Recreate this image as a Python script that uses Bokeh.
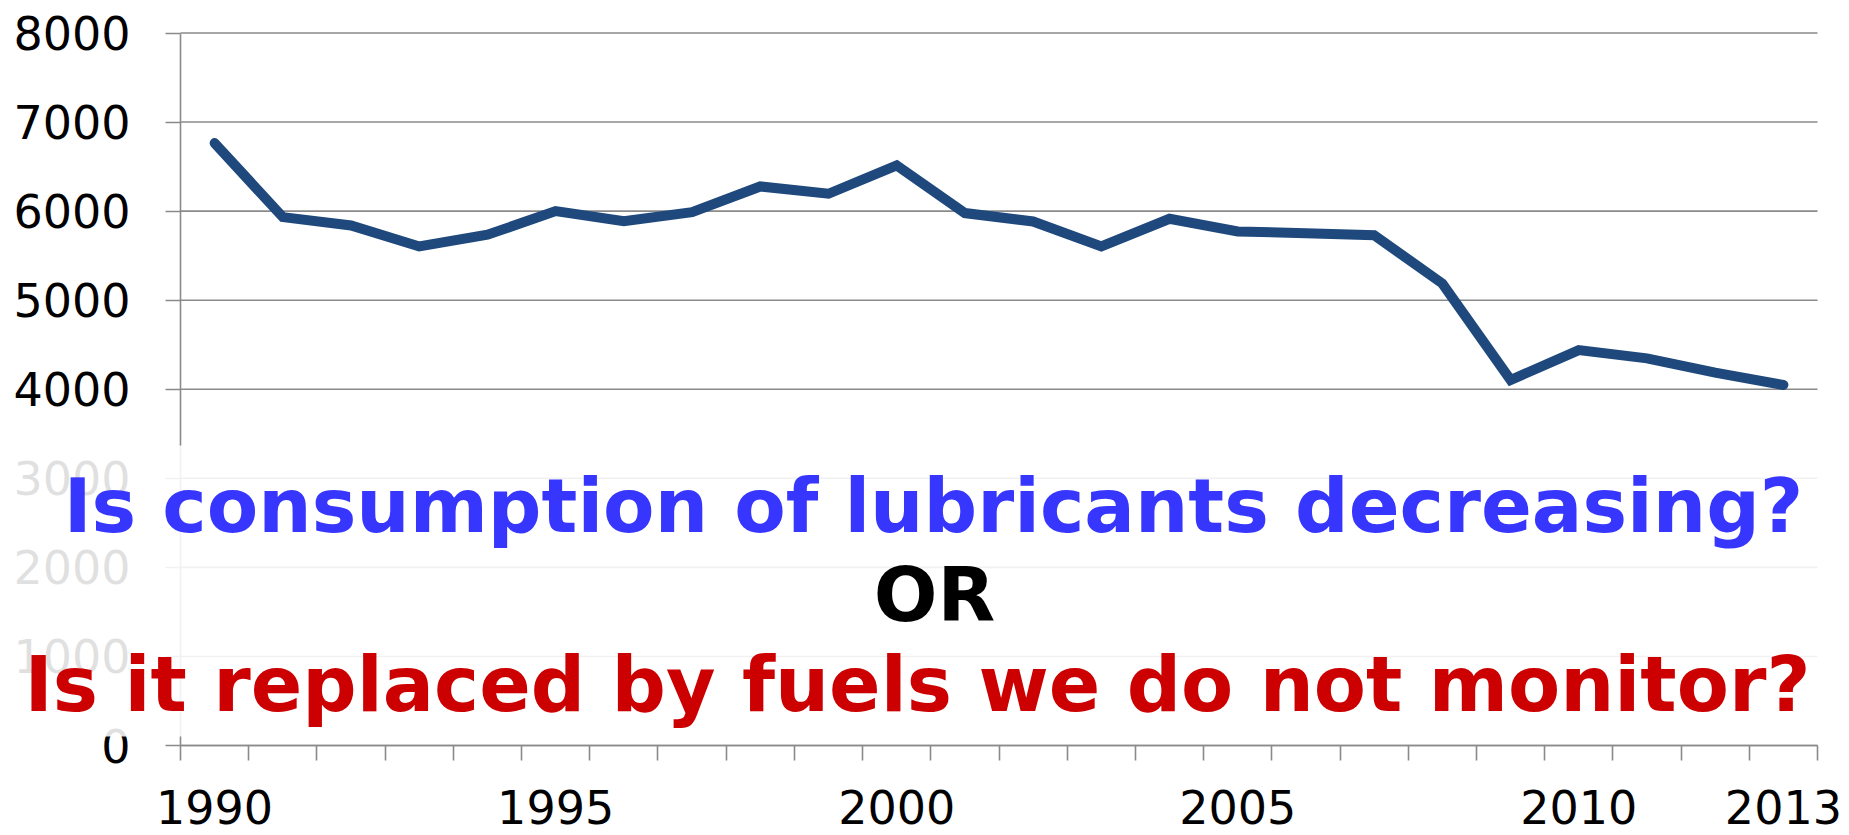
from bokeh.plotting import figure
from bokeh.models import Range1d, FixedTicker, BoxAnnotation, Label, ColumnDataSource
from bokeh.embed import file_html
from bokeh.resources import INLINE

# ---- data ----
years = [1990, 1991, 1992, 1993, 1994, 1995, 1996, 1997, 1998, 1999, 2000, 2001,
         2002, 2003, 2004, 2005, 2006, 2007, 2008, 2009, 2010, 2011, 2012, 2013]
consumption = [6764, 5933, 5839, 5603, 5735, 6000, 5888, 5989, 6277, 6195, 6513, 5978,
               5884, 5603, 5914, 5772, 5752, 5730, 5187, 4104, 4440, 4347, 4186, 4048]
x_tick_years = [1990, 1995, 2000, 2005, 2010, 2013]
y_ticks = [0, 1000, 2000, 3000, 4000, 5000, 6000, 7000, 8000]
question_1 = "Is consumption of lubricants decreasing?"
question_or = "OR"
question_2 = "Is it replaced by fuels we do not monitor?"

FONT = "DejaVu Sans"
GRAY = "#8A8A8A"

# ---- layout geometry (pixels on the canvas) ----
W, H = 1849, 835
PLOT_LEFT, PLOT_RIGHT = 180.0, 1817.0     # x of axis start / end
PLOT_TOP, PLOT_BOTTOM = 32.5, 745.0       # y of top gridline / x axis
x_lo, x_hi = years[0] - 0.5, years[-1] + 0.5
y_lo, y_hi = y_ticks[0], y_ticks[-1]
ppx = (PLOT_RIGHT - PLOT_LEFT) / (x_hi - x_lo)
ppy = (PLOT_BOTTOM - PLOT_TOP) / (y_hi - y_lo)
xr = Range1d(x_lo - PLOT_LEFT / ppx, x_lo + (W - PLOT_LEFT) / ppx)
yr = Range1d(y_lo - (H - PLOT_BOTTOM) / ppy, y_lo + PLOT_BOTTOM / ppy)


def y_at(px):
    return y_lo + (PLOT_BOTTOM - px) / ppy


def x_at(px):
    return x_lo + (px - PLOT_LEFT) / ppx


p = figure(width=W, height=H, output_backend="svg", toolbar_location=None,
           x_range=xr, y_range=yr, min_border=0)
p.outline_line_color = None
p.background_fill_color = "white"
p.border_fill_color = "white"

# horizontal grid lines across the plot area
n = len(y_ticks)
p.segment(x0=[x_lo] * n, y0=y_ticks, x1=[x_hi] * n, y1=y_ticks,
          line_color=GRAY, line_width=1.6)

src = ColumnDataSource(dict(year=years, value=consumption))
p.line("year", "value", source=src, line_color="#1F497D", line_width=10,
       line_cap="round", line_join="miter")

# x axis: boundary ticks as minor ticks, labels at selected years
boundaries = [y - 0.5 for y in years] + [years[-1] + 0.5]
xa = p.xaxis[0]
xa.fixed_location = y_lo
xa.bounds = (x_lo, x_hi)
xa.ticker = FixedTicker(ticks=x_tick_years, minor_ticks=boundaries)
xa.major_label_overrides = {y: str(y) for y in x_tick_years}
xa.major_tick_out = 0
xa.major_tick_in = 0
xa.minor_tick_out = 15
xa.minor_tick_in = 0
xa.minor_tick_line_color = GRAY
xa.minor_tick_line_width = 1.6
xa.axis_line_color = GRAY
xa.axis_line_width = 1.6
xa.major_label_standoff = 29
xa.major_label_text_font = FONT
xa.major_label_text_font_size = "46px"
xa.major_label_text_color = "black"

ya = p.yaxis[0]
ya.fixed_location = x_lo
ya.bounds = (y_lo, y_hi)
ya.ticker = FixedTicker(ticks=y_ticks, minor_ticks=[])
ya.major_tick_out = 15
ya.major_tick_in = 0
ya.major_tick_line_color = GRAY
ya.major_tick_line_width = 1.6
ya.axis_line_color = GRAY
ya.axis_line_width = 1.6
ya.major_label_standoff = 35
ya.major_label_text_font = FONT
ya.major_label_text_font_size = "46px"
ya.major_label_text_color = "black"

p.xgrid.visible = False
p.ygrid.visible = False

# faded lower part
fade = BoxAnnotation(top=y_at(445), bottom=y_at(736),
                     fill_color="white", fill_alpha=0.88, line_color=None)
p.add_layout(fade)

BASE_SHIFT = 26  # empirical offset of the alphabetic baseline
p.add_layout(Label(x=x_at(933), y=y_at(531 - BASE_SHIFT), text=question_1, text_font=FONT,
                   text_font_style="bold", text_font_size="75px", text_color="#3636FF",
                   text_align="center", text_baseline="alphabetic"))
p.add_layout(Label(x=x_at(934), y=y_at(620 - BASE_SHIFT), text=question_or, text_font=FONT,
                   text_font_style="bold", text_font_size="75px", text_color="black",
                   text_align="center", text_baseline="alphabetic"))
p.add_layout(Label(x=x_at(917), y=y_at(710 - BASE_SHIFT), text=question_2, text_font=FONT,
                   text_font_style="bold", text_font_size="76px", text_color="#CC0000",
                   text_align="center", text_baseline="alphabetic"))

open("out.html", "w").write(file_html(p, INLINE))
